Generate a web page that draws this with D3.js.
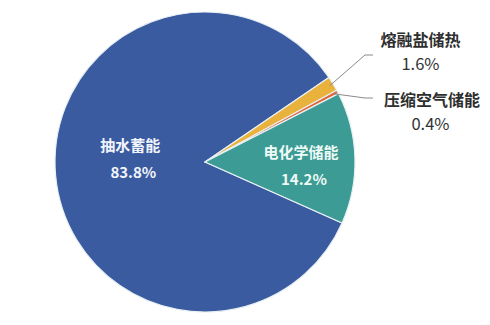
<!DOCTYPE html>
<html><head><meta charset="utf-8">
<script src="https://cdn.jsdelivr.net/npm/d3@7/dist/d3.min.js"></script>
<style>body{margin:0;background:#fff}svg{display:block}</style>
</head><body>
<svg id="c" width="490" height="325"></svg>
<script>
const categories = ["抽水蓄能", "熔融盐储热", "压缩空气储能", "电化学储能"];
const values = [83.8, 1.6, 0.4, 14.2];
const labels = ["83.8%", "1.6%", "0.4%", "14.2%"];
const colors = ["#3A5BA0", "#E9B23C", "#E0663A", "#3C9B94"];

const svg = d3.select("#c");
const cx = 205, cy = 162, R = 150;
const g = svg.append("g").attr("transform", `translate(${cx},${cy})`);
const deg = Math.PI / 180;
const pie = d3.pie().sort(null).value(d => d).startAngle(114 * deg).endAngle(474 * deg);
const arcs = pie(values);
const arc = d3.arc().innerRadius(0).outerRadius(R);

g.selectAll("path").data(arcs).join("path")
  .attr("d", arc)
  .attr("fill", (d, i) => colors[i])
  .attr("stroke", "#e8f0f4").attr("stroke-width", 1.2).attr("stroke-linejoin", "round");

const font = "'Noto Sans CJK SC','Noto Sans',sans-serif";
// inside labels
const inside = [{i: 0, r: 75, dy: -10.7, px: 3, fill: "#f2f5fb"}, {i: 3, r: 96, dy: 5.4, px: 3, fill: "#eefaf6"}];
inside.forEach(o => {
  const a = arcs[o.i];
  const m = (a.startAngle + a.endAngle) / 2;
  const x = Math.sin(m) * o.r, y = -Math.cos(m) * o.r + o.dy;
  const t = g.append("text").attr("text-anchor", "middle").attr("font-family", font)
    .attr("font-weight", "bold").attr("fill", o.fill);
  t.append("tspan").attr("x", x).attr("y", y - 7).attr("font-size", 15).text(categories[o.i]);
  t.append("tspan").attr("x", x + o.px).attr("y", y + 20).attr("font-size", 15).text(labels[o.i]);
});

// outside labels with leader lines
const outside = [
  {i: 1, ey: -107, tx: 215.5, ty: -116, px: 215.5, py: -92},
  {i: 2, ey: -64, tx: 227, ty: -56.5, px: 225.5, py: -32.5}
];
outside.forEach(o => {
  const a = arcs[o.i];
  const m = (a.startAngle + a.endAngle) / 2;
  const x0 = Math.sin(m) * (R - 4), y0 = -Math.cos(m) * (R - 4);
  const x1 = 160, x2 = 168;
  g.append("polyline")
    .attr("points", `${x0},${y0} ${x1},${o.ey} ${x2},${o.ey}`)
    .attr("fill", "none").attr("stroke", "#8a8a8a").attr("stroke-width", 1);
  const t = g.append("text").attr("text-anchor", "middle").attr("font-family", font);
  t.append("tspan").attr("x", o.tx).attr("y", o.ty)
    .attr("font-weight", "bold").attr("font-size", 16).attr("fill", "#2e2e2e").text(categories[o.i]);
  t.append("tspan").attr("x", o.px).attr("y", o.py)
    .attr("font-weight", "normal").attr("font-size", 16.5).attr("fill", "#333").text(labels[o.i]);
});
</script>
</body></html>
